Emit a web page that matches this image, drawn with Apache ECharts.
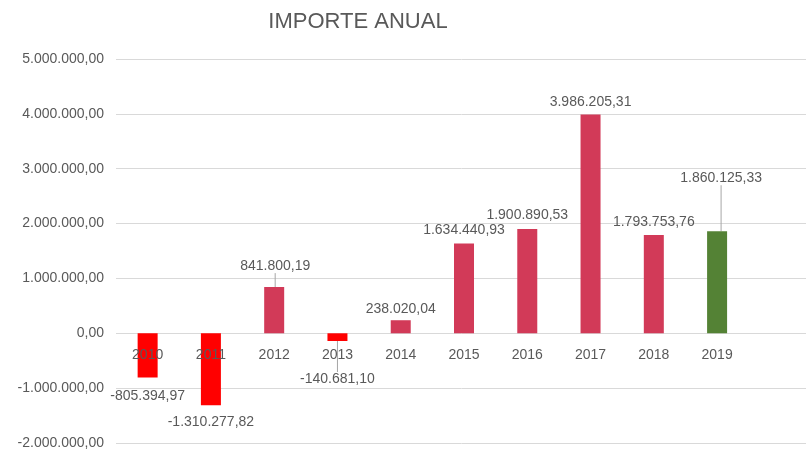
<!DOCTYPE html>
<html>
<head>
<meta charset="utf-8">
<script src="https://cdn.jsdelivr.net/npm/echarts@6/dist/echarts.min.js"></script>
<style>
  html, body { margin: 0; padding: 0; background: #fff; }
  #main { width: 806px; height: 455px; }
</style>
</head>
<body>
<div id="main"></div>
<script>
// datos del grafico
const years = ['2010', '2011', '2012', '2013', '2014', '2015', '2016', '2017', '2018', '2019', '']
const importes = [-805394.97, -1310277.82, 841800.19, -140681.10, 238020.04, 1634440.93, 1900890.53, 3986205.31, 1793753.76, 1860125.33, null]

// ajuste de etiquetas (dx, dy) y lineas guia
const labelShift = [[0, 7], [0, 5], [1, -9], [0, 26], [0, 1], [0, -1], [0, -2], [0, 0], [0, -1], [4, -41], [0, 0]]
const withLine = [false, false, true, true, false, false, false, false, false, true, false]

function fmt (v) {
  const neg = v < 0
  const parts = Math.abs(v).toFixed(2).split('.')
  const ent = parts[0].replace(/\B(?=(\d{3})+(?!\d))/g, '.')
  return (neg ? '-' : '') + ent + ',' + parts[1]
}

function barColor (v, i) {
  if (years[i] === '2019') return '#548235'
  return v < 0 ? '#FF0000' : '#D23A58'
}

const data = importes.map((v, i) => {
  if (v === null) return null
  return {
    value: v,
    itemStyle: { color: barColor(v, i) },
    label: { position: v < 0 ? 'bottom' : 'top' },
    labelLine: { show: withLine[i] }
  }
})

const option = {
  animation: false,
  title: {
    text: 'IMPORTE ANUAL',
    left: 353,
    top: 6,
    textAlign: 'center',
    textStyle: {
      fontFamily: 'Liberation Sans',
      fontWeight: 'normal',
      fontSize: 22,
      color: '#595959'
    }
  },
  grid: {
    left: 116,
    top: 59,
    width: 696,
    height: 384,
    outerBoundsMode: 'none',
    containLabel: false
  },
  xAxis: {
    type: 'category',
    data: years,
    z: 5,
    offset: 0,
    axisLine: { show: false, onZero: false },
    axisTick: { show: false },
    axisLabel: {
      margin: 15,
      fontFamily: 'Liberation Sans',
      fontSize: 14,
      color: '#595959'
    }
  },
  yAxis: {
    type: 'value',
    min: -2000000,
    max: 5000000,
    interval: 1000000,
    axisLabel: {
      margin: 12,
      fontFamily: 'Liberation Sans',
      fontSize: 14,
      color: '#595959',
      formatter: (v) => fmt(v)
    },
    splitLine: { lineStyle: { color: '#D9D9D9', width: 1 } }
  },
  series: [{
    type: 'bar',
    data: data,
    barWidth: 20,
    label: {
      show: true,
      distance: 5,
      fontFamily: 'Liberation Sans',
      fontSize: 14,
      color: '#595959',
      formatter: (p) => fmt(p.value)
    },
    labelLine: {
      lineStyle: { color: '#A6A6A6', width: 1 }
    },
    labelLayout: (p) => {
      const s = labelShift[p.dataIndex] || [0, 0]
      return { dx: s[0], dy: s[1] }
    }
  }]
}

const myChart = echarts.init(document.getElementById('main'))
myChart.setOption(option)

// subir las etiquetas de categoria hasta la linea del cero
const yZero = myChart.convertToPixel({ yAxisIndex: 0 }, 0)
const yBottom = myChart.convertToPixel({ yAxisIndex: 0 }, -2000000)
myChart.setOption({ xAxis: { offset: yZero - yBottom } })
</script>
</body>
</html>
